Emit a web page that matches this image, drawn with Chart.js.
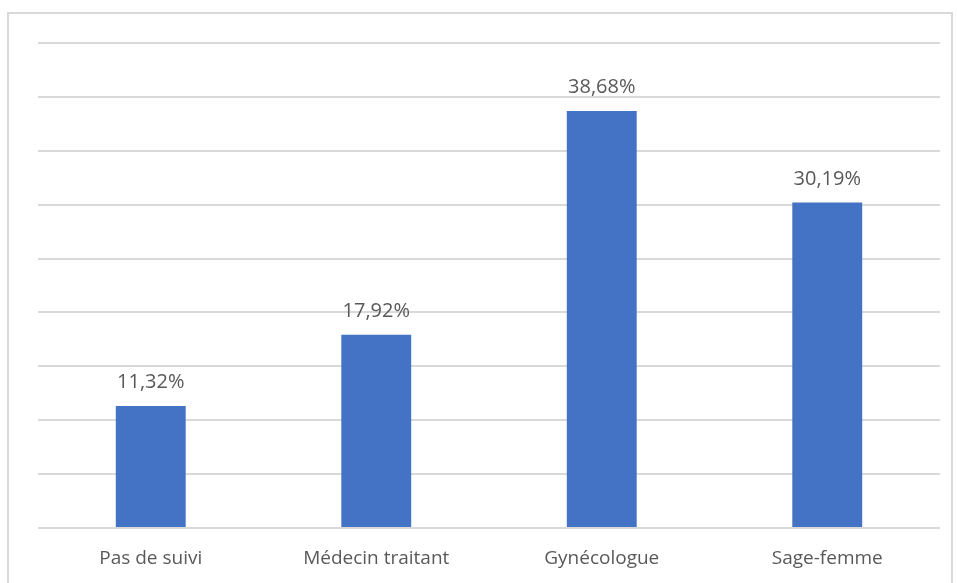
<!DOCTYPE html>
<html>
<head>
<meta charset="utf-8">
<script src="https://cdn.jsdelivr.net/npm/chart.js@4"></script>
<style>
  html, body { margin: 0; padding: 0; background: #fff; }
  #wrap { position: relative; width: 957px; height: 583px; overflow: hidden; }
  #frame { position: absolute; left: 7px; top: 12px; width: 946px; height: 600px; border: 2px solid #d9d9d9; box-sizing: border-box; }
  canvas { position: absolute; left: 0; top: 0; }
</style>
</head>
<body>
<div id="wrap">
  <div id="frame"></div>
  <canvas id="chart" width="957" height="583"></canvas>
</div>
<script>
// DATA
const categories = ["Pas de suivi", "Médecin traitant", "Gynécologue", "Sage-femme"];
const values = [11.32, 17.92, 38.68, 30.19];
const yMax = 45;
const yStep = 5;

// labels above bars, French decimal comma
const barLabels = {
  id: "barLabels",
  afterDatasetsDraw(chart) {
    const ctx = chart.ctx;
    const meta = chart.getDatasetMeta(0);
    ctx.save();
    ctx.font = "20px 'Open Sans', sans-serif";
    ctx.fillStyle = "#595959";
    ctx.textAlign = "center";
    ctx.textBaseline = "alphabetic";
    meta.data.forEach((bar, i) => {
      const txt = values[i].toFixed(2).replace(".", ",") + "%";
      ctx.fillText(txt, bar.x, bar.y - 18);
    });
    ctx.restore();
  }
};

const ctx = document.getElementById("chart").getContext("2d");
new Chart(ctx, {
  type: "bar",
  data: {
    labels: categories,
    datasets: [{
      data: values,
      backgroundColor: "#4472c4",
      barPercentage: 0.31,
      categoryPercentage: 1
    }]
  },
  options: {
    responsive: false,
    animation: false,
    layout: { padding: { left: 38, right: 17, top: 43, bottom: 0 } },
    plugins: {
      legend: { display: false },
      tooltip: { enabled: false }
    },
    scales: {
      x: {
        grid: { display: false, drawTicks: false },
        border: { display: false },
        ticks: {
          color: "#595959",
          font: { family: "'Open Sans', sans-serif", size: 19 },
          padding: 19
        },
        afterFit(scale) { scale.height = 55; }
      },
      y: {
        min: 0,
        max: yMax,
        ticks: { display: false, stepSize: yStep },
        grid: { color: "#d9d9d9", lineWidth: 2, drawTicks: false },
        border: { display: false }
      }
    }
  },
  plugins: [barLabels]
});
</script>
</body>
</html>
